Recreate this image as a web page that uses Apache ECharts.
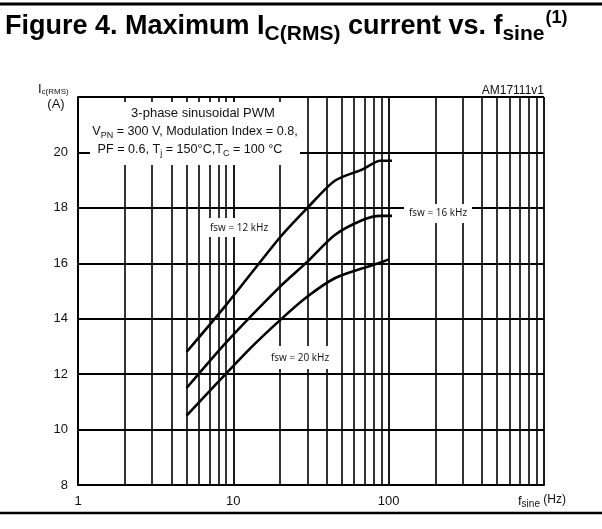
<!DOCTYPE html>
<html><head><meta charset="utf-8">
<script src="https://cdn.jsdelivr.net/npm/echarts@6/dist/echarts.min.js"></script>
<style>html,body{margin:0;padding:0;background:#fff}#c{width:602px;height:529px}</style>
</head><body><div id="c"></div>
<script>
// Data
const freq12 = [5, 9, 20, 30, 45, 68, 88, 105];
const ic12   = [12.8, 14.5, 16.94, 18.0, 18.98, 19.39, 19.70, 19.70];
const freq16 = [5, 9, 20, 30, 45, 68, 88, 105];
const ic16   = [11.5, 13.15, 15.16, 16.06, 17.02, 17.56, 17.71, 17.71];
const freq20 = [5, 12.7, 20, 30, 45, 68, 88, 100];
const ic20   = [10.5, 12.9, 13.95, 14.8, 15.46, 15.82, 16.02, 16.14];
const seriesNames = ['fsw = 12 kHz', 'fsw = 16 kHz', 'fsw = 20 kHz'];
const minorFreqs = [2,3,4,5,6,7,8,9,20,30,40,50,60,70,80,90,200,300,400,500,600,700,800,900];
const xTickLabels = [1, 10, 100];
const yTickLabels = [8, 10, 12, 14, 16, 18, 20];

const FONT = 'Liberation Sans, Arial, sans-serif';
const NARROW = 'Liberation Sans Narrow, Arial Narrow, Liberation Sans, sans-serif';
const SMALL = 'Open Sans, sans-serif';

const chart = echarts.init(document.getElementById('c'), null, {renderer: 'canvas'});
function pairs(xs, ys){ return xs.map((x,i)=>[x, ys[i]]); }
const curveStyle = {type:'line', symbol:'none', smooth:0.25, lineStyle:{color:'#000', width:2.6}, z:5, silent:true};

chart.setOption({
  animation:false,
  backgroundColor:'#fff',
  grid:{left:78, right:58, top:97, bottom:44, containLabel:false},
  xAxis:{type:'log', logBase:10, min:1, max:1000,
    axisLine:{show:true, lineStyle:{color:'#000', width:2}},
    axisTick:{show:false},
    axisLabel:{margin:10, color:'#111', fontSize:13, fontFamily:FONT,
      formatter:v=>{const r=Math.round(v); return xTickLabels.includes(r)? String(r):'';}},
    splitLine:{show:true, lineStyle:{color:'#000', width:1.8}}
  },
  yAxis:{type:'value', min:8, max:22, interval:2,
    axisLine:{show:true, lineStyle:{color:'#000', width:2}},
    axisTick:{show:false},
    axisLabel:{margin:10, color:'#111', fontSize:13, fontFamily:FONT,
      formatter:v=> yTickLabels.includes(v)? String(v):''},
    splitLine:{show:true, lineStyle:{color:'#000', width:1.8}}
  },
  series:[
    Object.assign({name:seriesNames[0], data:pairs(freq12, ic12),
      markLine:{silent:true, symbol:['none','none'], label:{show:false},
        lineStyle:{color:'#000', width:1.6, type:'solid'},
        data: minorFreqs.map(f=>({xAxis:f}))}}, curveStyle),
    Object.assign({name:seriesNames[1], data:pairs(freq16, ic16)}, curveStyle),
    Object.assign({name:seriesNames[2], data:pairs(freq20, ic20)}, curveStyle)
  ],
  graphic:[
    {type:'line', shape:{x1:0,y1:4,x2:602,y2:4}, style:{stroke:'#000', lineWidth:3}, z:100},
    {type:'line', shape:{x1:0,y1:513,x2:602,y2:513}, style:{stroke:'#000', lineWidth:2.5}, z:100},
    {type:'text', left:5, top:9, z:90, style:{
      text:'{a|Figure 4. Maximum I}{s|C(RMS)}{a| current vs. f}{s|sine}{p|(1)}',
      rich:{
        a:{fontSize:27, fontWeight:'bold', fontFamily:NARROW, fill:'#000'},
        s:{fontSize:21, fontWeight:'bold', fontFamily:NARROW, fill:'#000', padding:[14,0,0,0]},
        p:{fontSize:18, fontWeight:'bold', fontFamily:NARROW, fill:'#000', padding:[0,0,18,1]}
      }}},
    // annotation box
    {type:'rect', shape:{x:90, y:102, width:210, height:63}, style:{fill:'#fff'}, z:50},
    {type:'text', x:203, y:113, z:60, style:{text:'3-phase sinusoidal PWM', font:'13px '+NARROW, fill:'#111', align:'center', verticalAlign:'middle'}},
    {type:'text', x:195, y:132, z:60, style:{
      text:'{n|V}{s|PN}{n| = 300 V, Modulation Index = 0.8,}', align:'center', verticalAlign:'middle',
      rich:{n:{fontSize:12.6, fontFamily:NARROW, fill:'#111'}, s:{fontSize:9, fontFamily:NARROW, fill:'#111', padding:[8,0,0,0]}}}},
    {type:'text', x:190, y:150, z:60, style:{
      text:'{n|PF = 0.6, T}{s|j}{n| = 150°C,T}{s|C}{n| = 100 °C}', align:'center', verticalAlign:'middle',
      rich:{n:{fontSize:12.6, fontFamily:NARROW, fill:'#111'}, s:{fontSize:9, fontFamily:NARROW, fill:'#111', padding:[8,0,0,0]}}}},
    // curve labels
    {type:'rect', shape:{x:209, y:218, width:60, height:19}, style:{fill:'#fff'}, z:50},
    {type:'text', x:239, y:228, z:60, style:{text:seriesNames[0], font:'10px '+SMALL, fill:'#111', align:'center', verticalAlign:'middle'}},
    {type:'rect', shape:{x:404, y:204, width:68, height:19}, style:{fill:'#fff'}, z:50},
    {type:'text', x:438, y:213, z:60, style:{text:seriesNames[1], font:'10px '+SMALL, fill:'#111', align:'center', verticalAlign:'middle'}},
    {type:'rect', shape:{x:271, y:346, width:58, height:23}, style:{fill:'#fff'}, z:50},
    {type:'text', x:300, y:358, z:60, style:{text:seriesNames[2], font:'10px '+SMALL, fill:'#111', align:'center', verticalAlign:'middle'}},
    // axis titles
    {type:'text', x:544, y:91, z:60, style:{text:'AM17111v1', font:'12px '+FONT, fill:'#111', align:'right', verticalAlign:'middle'}},
    {type:'text', x:38, y:89, z:60, style:{
      text:'{n|I}{s|c(RMS)}', verticalAlign:'middle',
      rich:{n:{fontSize:13, fontFamily:FONT, fill:'#111'}, s:{fontSize:8, fontFamily:FONT, fill:'#111', padding:[5,0,0,0]}}}},
    {type:'text', x:56, y:104, z:60, style:{text:'(A)', font:'13px '+FONT, fill:'#111', align:'center', verticalAlign:'middle'}},
    {type:'text', x:518, y:501, z:60, style:{
      text:'{n|f}{s|sine}{p| (Hz)}', verticalAlign:'middle',
      rich:{n:{fontSize:13, fontFamily:FONT, fill:'#111'}, s:{fontSize:10, fontFamily:FONT, fill:'#111', padding:[7,0,0,0]}, p:{fontSize:12, fontFamily:FONT, fill:'#111', padding:[0,0,3,0]}}}}
  ]
});
</script></body></html>
